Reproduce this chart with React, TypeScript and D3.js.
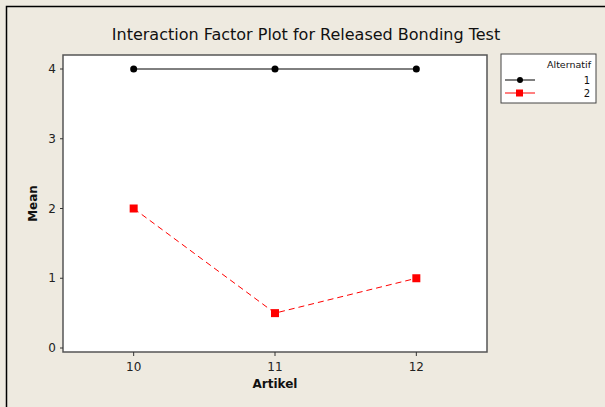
import { useEffect, useRef } from "react";
import * as d3 from "d3";

const artikel = [10, 11, 12];
const yTicks = [0, 1, 2, 3, 4];
const alt1 = [4, 4, 4];
const alt2 = [2, 0.5, 1];
const seriesNames = ["1", "2"];

export default function App() {
  const svgRef = useRef<SVGSVGElement>(null);
  const width = 605;
  const height = 407;

  useEffect(() => {
    const svg = d3.select(svgRef.current);
    svg.selectAll("*").remove();
    const font = "Tahoma, 'DejaVu Sans', sans-serif";

    svg.append("rect").attr("width", width).attr("height", height).attr("fill", "#eeeae0");
    // outer frame
    svg.append("path").attr("d", `M6.5,${height} V6.5 H${width}`).attr("fill", "none").attr("stroke", "#000").attr("stroke-width", 1.5);

    const plot = { left: 63, top: 55, right: 487, bottom: 352 };
    const x = d3.scaleLinear().domain([9.5, 12.5]).range([plot.left, plot.right]);
    const y = d3.scaleLinear().domain([0, 4]).range([348, 69]);

    svg.append("rect")
      .attr("x", plot.left).attr("y", plot.top)
      .attr("width", plot.right - plot.left).attr("height", plot.bottom - plot.top)
      .attr("fill", "#fff").attr("stroke", "#555").attr("stroke-width", 1.5);

    svg.append("text")
      .attr("x", 306).attr("y", 40).attr("text-anchor", "middle")
      .attr("font-family", font).attr("font-size", 16).attr("fill", "#111")
      .text("Interaction Factor Plot for Released Bonding Test");

    // y ticks
    const gy = svg.append("g");
    yTicks.forEach((t) => {
      gy.append("line").attr("x1", plot.left - 3).attr("x2", plot.left).attr("y1", y(t)).attr("y2", y(t)).attr("stroke", "#333");
      gy.append("text").attr("x", plot.left - 7).attr("y", y(t) + 4).attr("text-anchor", "end")
        .attr("font-family", font).attr("font-size", 12).attr("fill", "#222").text(t);
    });
    // x ticks
    const gx = svg.append("g");
    artikel.forEach((t) => {
      gx.append("line").attr("x1", x(t)).attr("x2", x(t)).attr("y1", plot.bottom).attr("y2", plot.bottom + 4).attr("stroke", "#333");
      gx.append("text").attr("x", x(t)).attr("y", plot.bottom + 19).attr("text-anchor", "middle")
        .attr("font-family", font).attr("font-size", 12).attr("fill", "#222").text(t);
    });

    svg.append("text").attr("x", x(11)).attr("y", 388).attr("text-anchor", "middle")
      .attr("font-family", font).attr("font-size", 12).attr("font-weight", "bold").attr("fill", "#111").text("Artikel");
    svg.append("text").attr("transform", `translate(37,${(plot.top + plot.bottom) / 2}) rotate(-90)`)
      .attr("text-anchor", "middle")
      .attr("font-family", font).attr("font-size", 12).attr("font-weight", "bold").attr("fill", "#111").text("Mean");

    const line = d3.line<number>().x((_, i) => x(artikel[i])).y((d) => y(d));

    svg.append("path").datum(alt1).attr("d", line).attr("fill", "none").attr("stroke", "#000").attr("stroke-width", 1);
    svg.append("g").selectAll("circle").data(alt1).join("circle")
      .attr("cx", (_, i) => x(artikel[i])).attr("cy", (d) => y(d)).attr("r", 3.5).attr("fill", "#000");

    svg.append("path").datum(alt2).attr("d", line).attr("fill", "none").attr("stroke", "#ff0000").attr("stroke-width", 1).attr("stroke-dasharray", "6,4");
    svg.append("g").selectAll("rect").data(alt2).join("rect")
      .attr("x", (_, i) => x(artikel[i]) - 4).attr("y", (d) => y(d) - 4).attr("width", 8).attr("height", 8).attr("fill", "#ff0000");

    // legend
    const lg = svg.append("g");
    lg.append("rect").attr("x", 501).attr("y", 54).attr("width", 95).attr("height", 49)
      .attr("fill", "#fff").attr("stroke", "#444").attr("stroke-width", 1);
    lg.append("text").attr("x", 591).attr("y", 68).attr("text-anchor", "end")
      .attr("font-family", font).attr("font-size", 9.5).attr("fill", "#111").text("Alternatif");
    seriesNames.forEach((name, i) => {
      const ly = 80 + i * 13;
      const color = i === 0 ? "#000" : "#ff0000";
      lg.append("line").attr("x1", 505).attr("x2", 535).attr("y1", ly).attr("y2", ly).attr("stroke", color);
      if (i === 0) lg.append("circle").attr("cx", 520).attr("cy", ly).attr("r", 3).attr("fill", color);
      else lg.append("rect").attr("x", 516).attr("y", ly - 3.5).attr("width", 7).attr("height", 7).attr("fill", color);
      lg.append("text").attr("x", 590).attr("y", ly + 3.5).attr("text-anchor", "end")
        .attr("font-family", font).attr("font-size", 10).attr("fill", "#111").text(name);
    });
  }, []);

  return (
    <svg ref={svgRef} width={width} height={height} style={{ position: "absolute", left: 0, top: 0 }}></svg>
  );
}
